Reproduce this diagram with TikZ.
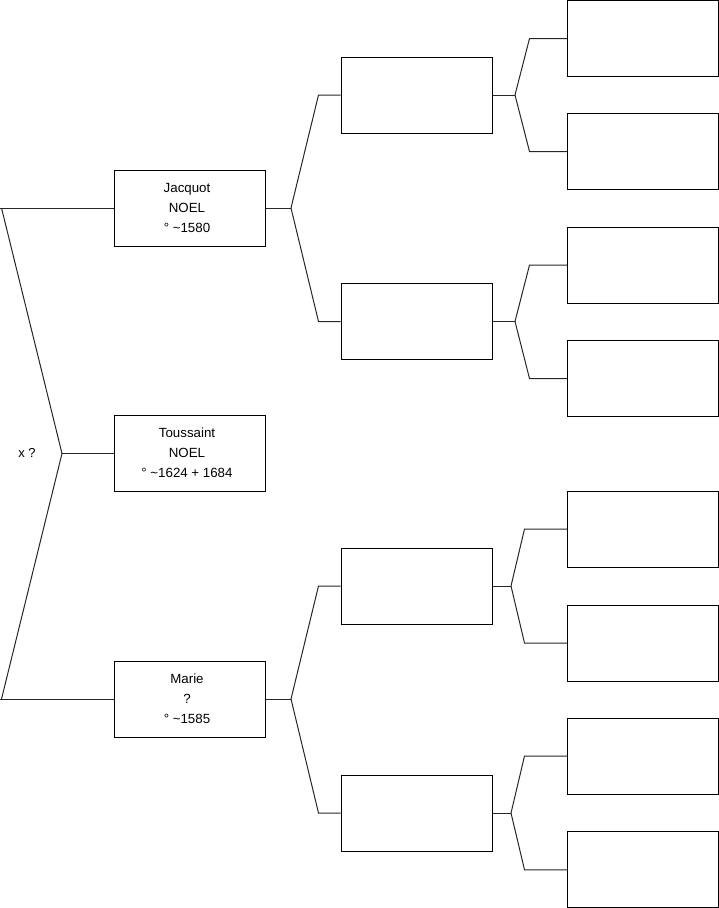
\documentclass[tikz,border=0pt]{standalone}
\usepackage{fontspec}
\setmainfont{Liberation Sans}
\newcommand\boxtext[1]{\begin{tabular}{@{}c@{}}#1\end{tabular}\hspace*{5pt}}
\begin{document}
\begin{tikzpicture}[x=1pt,y=-1pt,
  box/.style={draw=black, line width=1pt, minimum width=151pt, minimum height=76pt, inner sep=0pt, font=\fontsize{13.3}{20}\selectfont},
  conn/.style={draw=black!85, line width=1pt},
  lbl/.style={font=\fontsize{13}{20}\selectfont, inner sep=0pt}]
\useasboundingbox (0,0) rectangle (719,908);
% level 1
\node[box] (J) at (189.5,208) {\boxtext{Jacquot\\NOEL\\° \textasciitilde 1580}};
\node[box] (T) at (189.5,453.5) {\boxtext{Toussaint\\NOEL\\° \textasciitilde 1624 + 1684}};
\node[box] (M) at (189.5,699) {\boxtext{Marie\\?\\° \textasciitilde 1585}};
% level 2
\node[box] (A) at (416.5,95) {};
\node[box] (B) at (416.5,321.5) {};
\node[box] (C) at (416.5,586) {};
\node[box] (D) at (416.5,813) {};
% level 3
\node[box] (A1) at (643,38.5) {};
\node[box] (A2) at (643,151.5) {};
\node[box] (B1) at (643,265) {};
\node[box] (B2) at (643,378.5) {};
\node[box] (C1) at (643,529) {};
\node[box] (C2) at (643,643) {};
\node[box] (D1) at (643,756) {};
\node[box] (D2) at (643,869.75) {};
% left connectors
\node[lbl] (x) at (27,453) {x ?};
\coordinate (LJ) at (0,208);
\coordinate (LM) at (0,699);
\coordinate (LJd) at (1.5,208);
\coordinate (LMd) at (1.5,699);
\coordinate (P) at (62,453.5);
\draw[conn] (LJ) -- (J.west);
\draw[conn] (LM) -- (M.west);
\draw[conn] (LJd) -- (P) -- (LMd);
\draw[conn] (P) -- (T.west);
% level 1 -> 2
\coordinate (sJ) at (291,208);
\coordinate (sM) at (291,699);
\draw[conn] (J.east) -- (sJ);
\draw[conn] (sJ) -- ([xshift=-22pt]A.west) -- (A.west);
\draw[conn] (sJ) -- ([xshift=-22pt]B.west) -- (B.west);
\draw[conn] (M.east) -- (sM);
\draw[conn] (sM) -- ([xshift=-22pt]C.west) -- (C.west);
\draw[conn] (sM) -- ([xshift=-22pt]D.west) -- (D.west);
% level 2 -> 3
\coordinate (sA) at (515,95);
\coordinate (sB) at (515,321.5);
\coordinate (sC) at (511,586);
\coordinate (sD) at (511,813);
\draw[conn] (A.east) -- (sA);
\draw[conn] (sA) -- ([xshift=-37.5pt]A1.west) -- (A1.west);
\draw[conn] (sA) -- ([xshift=-37.5pt]A2.west) -- (A2.west);
\draw[conn] (B.east) -- (sB);
\draw[conn] (sB) -- ([xshift=-37.5pt]B1.west) -- (B1.west);
\draw[conn] (sB) -- ([xshift=-37.5pt]B2.west) -- (B2.west);
\draw[conn] (C.east) -- (sC);
\draw[conn] (sC) -- ([xshift=-42.5pt]C1.west) -- (C1.west);
\draw[conn] (sC) -- ([xshift=-42.5pt]C2.west) -- (C2.west);
\draw[conn] (D.east) -- (sD);
\draw[conn] (sD) -- ([xshift=-42.5pt]D1.west) -- (D1.west);
\draw[conn] (sD) -- ([xshift=-42.5pt]D2.west) -- (D2.west);
\end{tikzpicture}
\end{document}
